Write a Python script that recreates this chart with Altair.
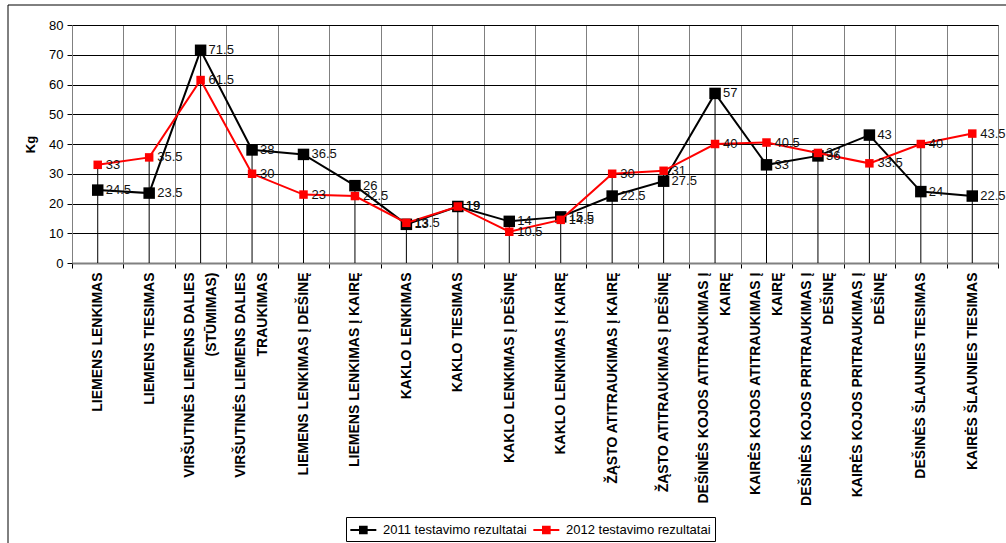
import altair as alt
import pandas as pd

categories = [
    "LIEMENS LENKIMAS",
    "LIEMENS TIESIMAS",
    "VIRŠUTINĖS LIEMENS DALIES|(STŪMIMAS)",
    "VIRŠUTINĖS LIEMENS DALIES|TRAUKIMAS",
    "LIEMENS LENKIMAS Į DEŠINĘ",
    "LIEMENS LENKIMAS Į KAIRĘ",
    "KAKLO LENKIMAS",
    "KAKLO TIESIMAS",
    "KAKLO LENKIMAS Į DEŠINĘ",
    "KAKLO LENKIMAS Į KAIRĘ",
    "ŽĄSTO ATITRAUKIMAS Į KAIRĘ",
    "ŽĄSTO ATITRAUKIMAS Į DEŠINĘ",
    "DEŠINĖS KOJOS ATITRAUKIMAS Į|KAIRĘ",
    "KAIRĖS KOJOS ATITRAUKIMAS Į|KAIRĘ",
    "DEŠINĖS KOJOS PRITRAUKIMAS Į|DEŠINĘ",
    "KAIRĖS KOJOS PRITRAUKIMAS Į|DEŠINĘ",
    "DEŠINĖS ŠLAUNIES TIESIMAS",
    "KAIRĖS ŠLAUNIES TIESIMAS",
]
values_2011 = [24.5, 23.5, 71.5, 38, 36.5, 26, 13, 19, 14, 15.5, 22.5, 27.5, 57, 33, 36, 43, 24, 22.5]
values_2012 = [33, 35.5, 61.5, 30, 23, 22.5, 13.5, 19, 10.5, 14.5, 30, 31, 40, 40.5, 37, 33.5, 40, 43.5]
series_names = ["2011 testavimo rezultatai", "2012 testavimo rezultatai"]
series_colors = ["#000000", "#ff0000"]
y_ticks = [0, 10, 20, 30, 40, 50, 60, 70, 80]

rows = []
for i, c in enumerate(categories):
    rows.append({"cat": c, "series": series_names[0], "value": values_2011[i]})
    rows.append({"cat": c, "series": series_names[1], "value": values_2012[i]})
df = pd.DataFrame(rows)

FONT = "Liberation Sans"
x_scale = alt.Scale(type="band", paddingInner=0, paddingOuter=0)

label_style = dict(
    orient="bottom",
    labelAngle=270,
    labelFont=FONT,
    labelFontSize=14,
    labelFontWeight="bold",
    labelColor="#000000",
    labelLimit=400,
    labelPadding=4,
    labelOverlap=False,
)

# main axis: grid, ticks, domain and the one-line labels
axis_main = alt.Axis(
    labelExpr="indexof(datum.label, '|') >= 0 ? '' : datum.label",
    tickBand="extent",
    ticks=True,
    tickSize=5,
    tickColor="#000000",
    grid=True,
    gridColor="#808080",
    gridWidth=1,
    domainColor="#808080",
    domainWidth=2,
    **label_style,
)
# first and second lines of the two-line labels
axis_line1 = alt.Axis(
    labelExpr="indexof(datum.label, '|') >= 0 ? split(datum.label, '|')[0] : ''",
    labelOffset=-11,
    ticks=True,
    tickSize=5,
    tickOpacity=0,
    grid=False,
    domain=False,
    **label_style,
)
axis_line2 = alt.Axis(
    labelExpr="indexof(datum.label, '|') >= 0 ? split(datum.label, '|')[1] : ''",
    labelOffset=11,
    ticks=True,
    tickSize=5,
    tickOpacity=0,
    grid=False,
    domain=False,
    **label_style,
)


def make_x(axis):
    return alt.X("cat:N", sort=categories, scale=x_scale, title=None, axis=axis)


y_scale = alt.Scale(domain=[0, 80], nice=False)
y_axis = alt.Axis(
    values=y_ticks,
    labelFont=FONT,
    labelFontSize=13,
    labelColor="#000000",
    labelPadding=4,
    tickSize=5,
    tickColor="#000000",
    grid=True,
    gridColor="#000000",
    gridWidth=1,
    domainColor="#808080",
    domainWidth=1,
    titleFont=FONT,
    titleFontSize=13,
    titleFontWeight="bold",
    titleColor="#000000",
    titleAngle=270,
    titleX=-42,
    titleY=119,
    titleAlign="center",
    titleBaseline="middle",
)
y = alt.Y("value:Q", scale=y_scale, title="Kg", axis=y_axis)

color_scale = alt.Scale(domain=series_names, range=series_colors)
legend_path = (
    "M-1,-0.115 L2,-0.115 L2,0.115 L-1,0.115 Z "
    "M0,-0.5 L1,-0.5 L1,0.5 L0,0.5 Z"
)
legend = alt.Legend(
    title=None,
    orient="none",
    direction="horizontal",
    legendX=274,
    legendY=492,
    symbolType=legend_path,
    symbolSize=300,
    symbolStrokeWidth=0,
    labelFont=FONT,
    labelFontSize=13,
    labelColor="#000000",
    labelOffset=15,
    columnPadding=6,
    padding=4,
    strokeColor="#000000",
    fillColor="#ffffff",
)

base = alt.Chart(df)

frame = alt.Chart(pd.DataFrame({"a": [0]})).mark_rect(
    fill="transparent", stroke="#000000", strokeWidth=1
).encode(
    x=alt.value(-64), x2=alt.value(1000), y=alt.value(-20), y2=alt.value(600)
)

drops = base.transform_aggregate(
    vmax="max(value)", groupby=["cat"]
).mark_rule(color="#000000", strokeWidth=1).encode(
    x=make_x(axis_main),
    y=alt.Y("vmax:Q", scale=y_scale, title="Kg", axis=y_axis),
    y2=alt.datum(0),
)

layers = [frame, drops]
sizes = [132, 72]
line_axes = [axis_line1, axis_line2]
for s_name, s_color, size, l_axis in zip(series_names, series_colors, sizes, line_axes):
    sub = base.transform_filter(alt.datum.series == s_name)
    line = sub.mark_line(strokeWidth=2, color=s_color).encode(x=make_x(l_axis), y=y)
    pts = sub.mark_point(shape="square", filled=True, size=size, opacity=1, strokeWidth=0).encode(
        x=make_x(None), y=y, fill=alt.Fill("series:N", scale=color_scale, legend=legend)
    )
    layers += [line, pts]

for s_name in series_names:
    sub = base.transform_filter(alt.datum.series == s_name)
    txt = sub.mark_text(
        align="left", baseline="middle", dx=8, font=FONT, fontSize=13, color="#111111"
    ).encode(x=make_x(None), y=y, text=alt.Text("value:Q"))
    layers.append(txt)

chart = alt.layer(*layers).resolve_axis(x="independent").properties(
    width=926,
    height=238,
    autosize=alt.AutoSizeParams(type="none"),
    padding={"left": 72, "top": 25, "right": 8, "bottom": 280},
    background="#ffffff",
).configure_view(stroke="#808080", strokeWidth=1)

chart.save("out.html", embed_options={"renderer": "svg", "actions": False})
